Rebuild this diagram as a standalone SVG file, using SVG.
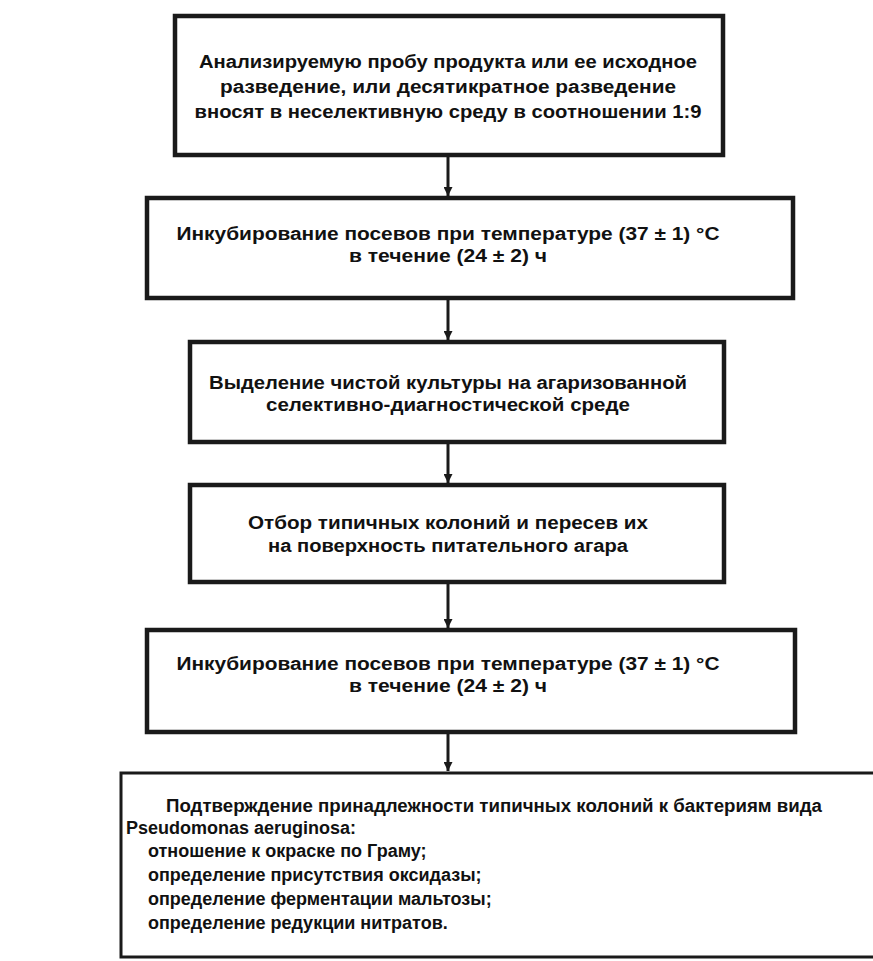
<svg xmlns="http://www.w3.org/2000/svg" width="873" height="961" viewBox="0 0 873 961">
<style>
.box{fill:#fff;stroke:#1a1a1a;stroke-width:4.5}
.box6{fill:#fff;stroke:#1a1a1a;stroke-width:3}
.t{font-family:"Liberation Sans",Arial,sans-serif;font-weight:bold;font-size:18px;fill:#111}
.c{text-anchor:middle}
.conn{stroke:#1a1a1a;stroke-width:3;fill:none;marker-end:url(#ah)}
</style>
<defs>
<marker id="ah" viewBox="0 0 10 10" refX="10" refY="5" markerWidth="3" markerHeight="3" orient="auto" markerUnits="strokeWidth">
<path d="M0,0 L10,5 L0,10 Z" fill="#1a1a1a"/>
</marker>
</defs>
<rect width="873" height="961" fill="#fff"/>
<g id="connectors">
<line class="conn" x1="448" y1="157" x2="448" y2="196"/>
<line class="conn" x1="448" y1="300" x2="448" y2="340"/>
<line class="conn" x1="448" y1="444" x2="448" y2="483"/>
<line class="conn" x1="448" y1="584" x2="448" y2="628"/>
<line class="conn" x1="448" y1="734" x2="448" y2="771"/>
</g>
<g id="node1">
<rect class="box" x="175" y="16" width="548" height="139"/>
<text class="t c" x="448" y="68" textLength="498" lengthAdjust="spacingAndGlyphs">Анализируемую пробу продукта или ее исходное</text>
<text class="t c" x="448" y="93" textLength="456" lengthAdjust="spacingAndGlyphs">разведение, или десятикратное разведение</text>
<text class="t c" x="448" y="118" textLength="507" lengthAdjust="spacingAndGlyphs">вносят в неселективную среду в соотношении 1:9</text>
</g>
<g id="node2">
<rect class="box" x="147" y="198" width="646" height="100"/>
<text class="t c" x="448" y="240" textLength="543" lengthAdjust="spacingAndGlyphs">Инкубирование посевов при температуре (37 ± 1) °С</text>
<text class="t c" x="448" y="262" textLength="198" lengthAdjust="spacingAndGlyphs">в течение (24 ± 2) ч</text>
</g>
<g id="node3">
<rect class="box" x="190" y="342" width="534" height="100"/>
<text class="t c" x="448" y="389" textLength="478" lengthAdjust="spacingAndGlyphs">Выделение чистой культуры на агаризованной</text>
<text class="t c" x="448" y="411" textLength="364" lengthAdjust="spacingAndGlyphs">селективно-диагностической среде</text>
</g>
<g id="node4">
<rect class="box" x="190" y="485" width="534" height="97"/>
<text class="t c" x="448" y="529" textLength="400" lengthAdjust="spacingAndGlyphs">Отбор типичных колоний и пересев их</text>
<text class="t c" x="448" y="552" textLength="360" lengthAdjust="spacingAndGlyphs">на поверхность питательного агара</text>
</g>
<g id="node5">
<rect class="box" x="147" y="630" width="648" height="102"/>
<text class="t c" x="448" y="670" textLength="543" lengthAdjust="spacingAndGlyphs">Инкубирование посевов при температуре (37 ± 1) °С</text>
<text class="t c" x="448" y="692" textLength="198" lengthAdjust="spacingAndGlyphs">в течение (24 ± 2) ч</text>
</g>
<g id="node6">
<rect class="box6" x="121" y="773" width="780" height="184"/>
<text class="t" x="166" y="812" textLength="656" lengthAdjust="spacingAndGlyphs">Подтверждение принадлежности типичных колоний к бактериям вида</text>
<text class="t" x="126" y="834">Pseudomonas aeruginosa:</text>
<text class="t" x="148" y="857">отношение к окраске по Граму;</text>
<text class="t" x="148" y="881">определение присутствия оксидазы;</text>
<text class="t" x="148" y="905">определение ферментации мальтозы;</text>
<text class="t" x="148" y="929">определение редукции нитратов.</text>
</g>
</svg>
